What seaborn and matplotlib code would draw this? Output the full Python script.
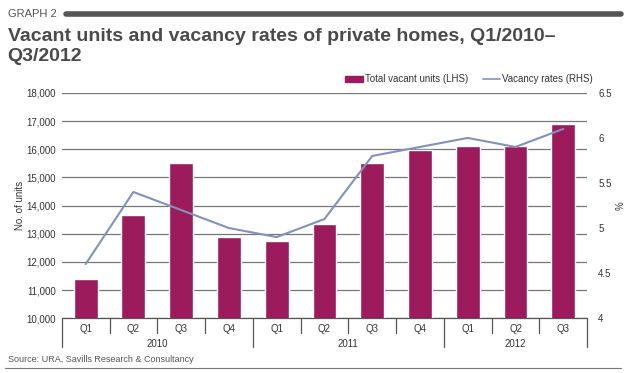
import numpy as np
import pandas as pd
from matplotlib import pyplot as plt
from matplotlib.patches import Patch
from matplotlib.lines import Line2D
import seaborn as sns

# 데이터
quarters = ['Q1', 'Q2', 'Q3', 'Q4', 'Q1', 'Q2', 'Q3', 'Q4', 'Q1', 'Q2', 'Q3']
years = ['2010', '2011', '2012']
vacant_units = [11400, 13670, 15520, 12900, 12730, 13330, 15520, 15970, 16120, 16120, 16880]
vacancy_rates = [4.6, 5.4, 5.2, 5.0, 4.9, 5.1, 5.8, 5.9, 6.0, 5.9, 6.1]

df = pd.DataFrame({'pos': range(len(quarters)), 'units': vacant_units, 'rate': vacancy_rates})

sns.set_style('white')
plt.rcParams['font.family'] = ['Liberation Sans', 'DejaVu Sans']

bar_color = '#9C1B5C'
line_color = '#8391BB'
txt = '#333333'

fig = plt.figure(figsize=(6.3, 3.73), dpi=100)
ax = fig.add_axes([0.098, 0.147, 0.834, 0.604])

sns.barplot(data=df, x='pos', y='units', color=bar_color, width=0.5, saturation=1, ax=ax, zorder=3)
ax.set_ylim(10000, 18000)
ax.set_yticks(range(10000, 18001, 1000))
ax.set_yticklabels([f'{v:,}' for v in range(10000, 18001, 1000)], fontsize=7, color=txt)
ax.yaxis.grid(True, color='#777777', linewidth=0.9)
ax.set_axisbelow(True)
ax.set_xlim(-0.5, len(quarters) - 0.5)
ax.set_xticks(range(len(quarters)))
ax.set_xticklabels(quarters, fontsize=7, color=txt)
ax.tick_params(axis='both', length=0, pad=4)
ax.set_xlabel('')
ax.set_ylabel('No. of units', fontsize=7, color=txt, labelpad=1)
for s in ['top', 'right', 'left']:
    ax.spines[s].set_visible(False)
ax.spines['bottom'].set_color('#555555')
ax.spines['bottom'].set_linewidth(0.9)

ax2 = ax.twinx()
sns.lineplot(data=df, x='pos', y='rate', color=line_color, linewidth=1.5, ax=ax2, zorder=4)
ax2.set_ylim(4, 6.5)
ax2.set_yticks([4, 4.5, 5, 5.5, 6, 6.5])
ax2.set_yticklabels(['4', '4.5', '5', '5.5', '6', '6.5'], fontsize=7, color=txt)
ax2.tick_params(axis='y', length=0, pad=8)
ax2.set_ylabel('%', fontsize=7, color=txt, labelpad=3, rotation=90)
for s in ax2.spines.values():
    s.set_visible(False)
ax2.set_xlim(-0.5, len(quarters) - 0.5)

# 분기/연도 구분선
trans = ax.get_xaxis_transform()
for k in range(len(quarters) + 1):
    x = k - 0.5
    deep = k in (0, 4, 8, len(quarters))
    ax.plot([x, x], [0, -0.13 if deep else -0.065], transform=trans,
            color='#555555', linewidth=0.9, clip_on=False)
for label, center in zip(years, [1.5, 5.5, 9]):
    ax.text(center, -0.115, label, transform=trans, ha='center', va='center', fontsize=7, color=txt)

# 범례
handles = [Patch(color=bar_color, label='Total vacant units (LHS)'),
           Line2D([0], [0], color=line_color, linewidth=1.2, label='Vacancy rates (RHS)')]
fig.legend(handles=handles, loc='center right', bbox_to_anchor=(0.955, 0.787), ncol=2,
           frameon=False, fontsize=7, handlelength=1.8, handletextpad=0.2, columnspacing=1.5,
           labelcolor=txt)

# 제목
fig.text(0.012, 0.963, 'GRAPH 2', fontsize=8, color='#555555', va='center')
fig.add_artist(Line2D([0.105, 0.985], [0.963, 0.963], color='#555555', linewidth=4))
fig.text(0.012, 0.925, 'Vacant units and vacancy rates of private homes, Q1/2010–\nQ3/2012',
         fontsize=14, fontweight='bold', color='#4a4a4a', va='top', linespacing=1.2)

fig.text(0.012, 0.035, 'Source: URA, Savills Research & Consultancy', fontsize=6.5, color='#555555', va='center')
fig.add_artist(Line2D([0.008, 0.985], [0.014, 0.014], color='#777777', linewidth=0.8))

fig.savefig('out.png', dpi=100)
